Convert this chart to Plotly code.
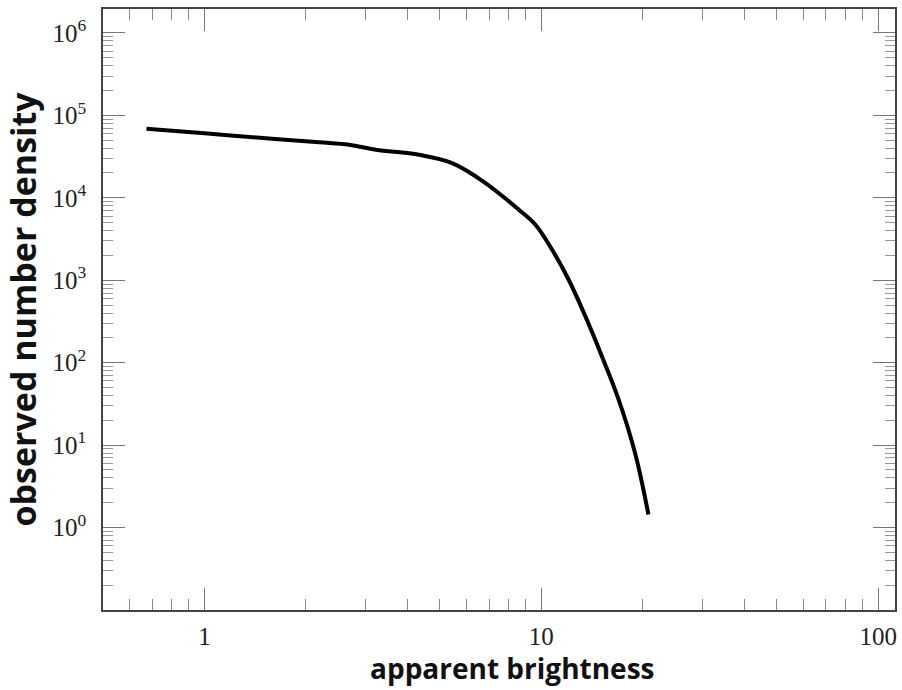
import plotly.graph_objects as go

# Data
brightness = [0.673, 1.0, 1.52, 2.19, 2.69, 3.23, 4.34, 5.44, 6.83, 8.58, 9.61,
              10.77, 12.06, 13.52, 15.14, 16.97, 19.0, 20.8]
density = [68600, 60500, 52900, 47100, 43900, 38200, 33200, 26300, 15100, 7160, 4710,
           2340, 1014, 364, 119, 35.6, 7.9, 1.44]

y_tickvals = [1, 10, 100, 1000, 10000, 100000, 1000000]
y_ticktext = ["10<sup>0</sup>", "10<sup>1</sup>", "10<sup>2</sup>", "10<sup>3</sup>",
              "10<sup>4</sup>", "10<sup>5</sup>", "10<sup>6</sup>"]
x_tickvals = [1, 10, 100]
x_ticktext = ["1", "10", "100"]

y_minor = [m * 10 ** k for k in range(-1, 7) for m in range(2, 10)]
x_minor = [m * 10 ** k for k in range(-1, 2) for m in range(2, 10)]

fig = go.Figure()
fig.add_trace(go.Scatter(
    x=brightness, y=density, mode="lines",
    line=dict(color="black", width=4, shape="spline", smoothing=1.0),
    showlegend=False,
))

axis_common = dict(
    showline=True, linecolor="#444", linewidth=1.5, mirror="allticks",
    ticks="inside", ticklen=22, tickwidth=1.2, tickcolor="#777",
    showgrid=False, zeroline=False,
    tickfont=dict(family="Liberation Serif", size=25, color="#222"),
)

fig.update_xaxes(
    type="log", range=[-0.301, 2.05],
    tickmode="array", tickvals=x_tickvals, ticktext=x_ticktext,
    minor=dict(tickmode="array", tickvals=x_minor, ticks="inside", ticklen=11,
               tickwidth=1.2, tickcolor="#888", showgrid=False),
    ticklabelstandoff=3,
    **axis_common,
)
fig.update_yaxes(
    type="log", range=[-1, 6.29],
    tickmode="array", tickvals=y_tickvals, ticktext=y_ticktext,
    minor=dict(tickmode="array", tickvals=y_minor, ticks="inside", ticklen=10,
               tickwidth=1.2, tickcolor="#999", showgrid=False),
    ticklabelstandoff=10,
    title=dict(text="<b>observed number density</b>",
               font=dict(family="Open Sans", size=34, color="#111"), standoff=6),
    **axis_common,
)

fig.add_annotation(
    text="<b>apparent brightness</b>", xref="paper", yref="paper",
    x=0.517, y=0, yshift=-58, xanchor="center", yanchor="middle", showarrow=False,
    font=dict(family="Open Sans", size=28, color="#111"),
)

fig.update_layout(
    width=902, height=690,
    margin=dict(l=103, r=5, t=9, b=80),
    paper_bgcolor="white", plot_bgcolor="white",
)

fig.write_html("out.html")
